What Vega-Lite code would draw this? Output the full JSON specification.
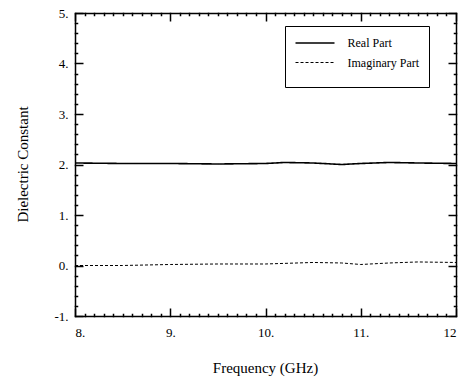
{
  "$schema": "https://vega.github.io/schema/vega-lite/v6.json",
  "width": 381,
  "height": 303,
  "autosize": {"type": "none"},
  "padding": {"left": 75, "top": 13, "right": 10, "bottom": 61},
  "background": "white",
  "config": {
    "font": "Liberation Serif",
    "view": {"stroke": null, "fill": null},
    "axis": {
      "grid": false,
      "domainColor": "black",
      "domainWidth": 1.5,
      "labelFont": "Liberation Serif",
      "titleFont": "Liberation Serif",
      "labelColor": "black",
      "titleColor": "black",
      "labelFontSize": 13,
      "titleFontSize": 15,
      "titleFontWeight": "normal"
    },
    "legend": {
      "orient": "none",
      "legendX": 210,
      "legendY": 13,
      "strokeColor": "black",
      "padding": 9.5,
      "symbolType": "M-1,0H5",
      "symbolSize": 169,
      "symbolStrokeColor": "black",
      "symbolStrokeWidth": 1,
      "labelFont": "Liberation Serif",
      "labelFontSize": 12,
      "labelColor": "black",
      "labelOffset": 38,
      "rowPadding": 6,
      "titleOrient": "bottom",
      "titleFontSize": 5,
      "titlePadding": 4
    }
  },
  "data": {
    "values": [
      {"freq": 8.0, "value": 2.03, "series": "Real Part"},
      {"freq": 8.5, "value": 2.02, "series": "Real Part"},
      {"freq": 9.0, "value": 2.02, "series": "Real Part"},
      {"freq": 9.5, "value": 2.01, "series": "Real Part"},
      {"freq": 10.0, "value": 2.02, "series": "Real Part"},
      {"freq": 10.2, "value": 2.04, "series": "Real Part"},
      {"freq": 10.5, "value": 2.03, "series": "Real Part"},
      {"freq": 10.8, "value": 2.0, "series": "Real Part"},
      {"freq": 11.0, "value": 2.02, "series": "Real Part"},
      {"freq": 11.3, "value": 2.04, "series": "Real Part"},
      {"freq": 11.6, "value": 2.03, "series": "Real Part"},
      {"freq": 12.0, "value": 2.02, "series": "Real Part"},
      {"freq": 8.0, "value": 0.0, "series": "Imaginary Part"},
      {"freq": 8.5, "value": 0.0, "series": "Imaginary Part"},
      {"freq": 9.0, "value": 0.02, "series": "Imaginary Part"},
      {"freq": 9.5, "value": 0.03, "series": "Imaginary Part"},
      {"freq": 10.0, "value": 0.03, "series": "Imaginary Part"},
      {"freq": 10.5, "value": 0.06, "series": "Imaginary Part"},
      {"freq": 10.8, "value": 0.05, "series": "Imaginary Part"},
      {"freq": 11.0, "value": 0.02, "series": "Imaginary Part"},
      {"freq": 11.3, "value": 0.05, "series": "Imaginary Part"},
      {"freq": 11.6, "value": 0.07, "series": "Imaginary Part"},
      {"freq": 12.0, "value": 0.06, "series": "Imaginary Part"}
    ]
  },
  "resolve": {"axis": {"x": "independent", "y": "independent"}},
  "layer": [
    {
      "mark": {"type": "line", "color": "black"},
      "encoding": {
        "x": {
          "field": "freq", "type": "quantitative",
          "scale": {"domain": [8, 12], "nice": false, "zero": false},
          "axis": {
            "orient": "bottom",
            "title": "Frequency (GHz)",
            "values": [8, 9, 10, 11, 12],
            "labelExpr": "datum.value == 12 ? '12' : datum.value + '.'",
            "ticks": false,
            "tickSize": 0,
            "labelPadding": 10,
            "titleX": 190,
            "titleY": 51,
            "titleBaseline": "middle"
          }
        },
        "y": {
          "field": "value", "type": "quantitative",
          "scale": {"domain": [-1, 5], "nice": false, "zero": false},
          "axis": {
            "orient": "left",
            "title": "Dielectric Constant",
            "values": [-1, 0, 1, 2, 3, 4, 5],
            "labelExpr": "datum.value + '.'",
            "ticks": false,
            "tickSize": 0,
            "labelPadding": 7,
            "titleX": -53,
            "titleY": 151,
            "titleAngle": -90,
            "titleAlign": "center",
            "titleBaseline": "middle"
          }
        },
        "strokeDash": {
          "field": "series", "type": "nominal",
          "scale": {"domain": ["Real Part", "Imaginary Part"], "range": [[1, 0], [3, 2]]},
          "legend": {"title": " "}
        },
        "strokeWidth": {
          "field": "series", "type": "nominal",
          "scale": {"domain": ["Real Part", "Imaginary Part"], "range": [1.6, 1]},
          "legend": null
        }
      }
    },
    {
      "mark": {"type": "line", "opacity": 0},
      "encoding": {
        "detail": {"field": "series", "type": "nominal"},
        "x": {
          "field": "freq", "type": "quantitative",
          "scale": {"domain": [8, 12], "nice": false, "zero": false},
          "axis": {"orient": "top", "title": null, "values": [8, 9, 10, 11, 12], "labels": false, "ticks": false}
        },
        "y": {
          "field": "value", "type": "quantitative",
          "scale": {"domain": [-1, 5], "nice": false, "zero": false},
          "axis": {"orient": "right", "title": null, "values": [-1, 0, 1, 2, 3, 4, 5], "labels": false, "ticks": false}
        }
      }
    },
    {
      "mark": {"type": "line", "opacity": 0},
      "encoding": {
        "detail": {"field": "series", "type": "nominal"},
        "x": {
          "field": "freq", "type": "quantitative",
          "scale": {"domain": [8, 12], "nice": false, "zero": false},
          "axis": {
            "orient": "bottom", "title": null, "labels": false, "domain": false, "ticks": true,
            "values": [8, 8.1, 8.2, 8.3, 8.4, 8.5, 8.6, 8.7, 8.8, 8.9, 9, 9.1, 9.2, 9.3, 9.4, 9.5, 9.6, 9.7, 9.8, 9.9, 10, 10.1, 10.2, 10.3, 10.4, 10.5, 10.6, 10.7, 10.8, 10.9, 11, 11.1, 11.2, 11.3, 11.4, 11.5, 11.6, 11.7, 11.8, 11.9, 12],
            "tickColor": "black", "tickWidth": 1.5, "tickSize": 8.75, "offset": -8,
            "tickDash": {"condition": {"test": "abs(datum.value - round(datum.value)) < 0.01", "value": [20, 0]}, "value": [0, 5.25, 3.5]}
          }
        },
        "y": {
          "field": "value", "type": "quantitative",
          "scale": {"domain": [-1, 5], "nice": false, "zero": false},
          "axis": {
            "orient": "left", "title": null, "labels": false, "domain": false, "ticks": true,
            "values": [-1, -0.8, -0.6, -0.4, -0.2, 0, 0.2, 0.4, 0.6, 0.8, 1, 1.2, 1.4, 1.6, 1.8, 2, 2.2, 2.4, 2.6, 2.8, 3, 3.2, 3.4, 3.6, 3.8, 4, 4.2, 4.4, 4.6, 4.8, 5],
            "tickColor": "black", "tickWidth": 1.5, "tickSize": 8.75, "offset": -8,
            "tickDash": {"condition": {"test": "abs(datum.value - round(datum.value)) < 0.01", "value": [20, 0]}, "value": [0, 5.25, 3.5]}
          }
        }
      }
    },
    {
      "mark": {"type": "line", "opacity": 0},
      "encoding": {
        "detail": {"field": "series", "type": "nominal"},
        "x": {
          "field": "freq", "type": "quantitative",
          "scale": {"domain": [8, 12], "nice": false, "zero": false},
          "axis": {
            "orient": "top", "title": null, "labels": false, "domain": false, "ticks": true,
            "values": [8, 8.1, 8.2, 8.3, 8.4, 8.5, 8.6, 8.7, 8.8, 8.9, 9, 9.1, 9.2, 9.3, 9.4, 9.5, 9.6, 9.7, 9.8, 9.9, 10, 10.1, 10.2, 10.3, 10.4, 10.5, 10.6, 10.7, 10.8, 10.9, 11, 11.1, 11.2, 11.3, 11.4, 11.5, 11.6, 11.7, 11.8, 11.9, 12],
            "tickColor": "black", "tickWidth": 1.5, "tickSize": 8.75, "offset": -8,
            "tickDash": {"condition": {"test": "abs(datum.value - round(datum.value)) < 0.01", "value": [20, 0]}, "value": [0, 5.25, 3.5]}
          }
        },
        "y": {
          "field": "value", "type": "quantitative",
          "scale": {"domain": [-1, 5], "nice": false, "zero": false},
          "axis": {
            "orient": "right", "title": null, "labels": false, "domain": false, "ticks": true,
            "values": [-1, -0.8, -0.6, -0.4, -0.2, 0, 0.2, 0.4, 0.6, 0.8, 1, 1.2, 1.4, 1.6, 1.8, 2, 2.2, 2.4, 2.6, 2.8, 3, 3.2, 3.4, 3.6, 3.8, 4, 4.2, 4.4, 4.6, 4.8, 5],
            "tickColor": "black", "tickWidth": 1.5, "tickSize": 8.75, "offset": -8,
            "tickDash": {"condition": {"test": "abs(datum.value - round(datum.value)) < 0.01", "value": [20, 0]}, "value": [0, 5.25, 3.5]}
          }
        }
      }
    }
  ]
}
